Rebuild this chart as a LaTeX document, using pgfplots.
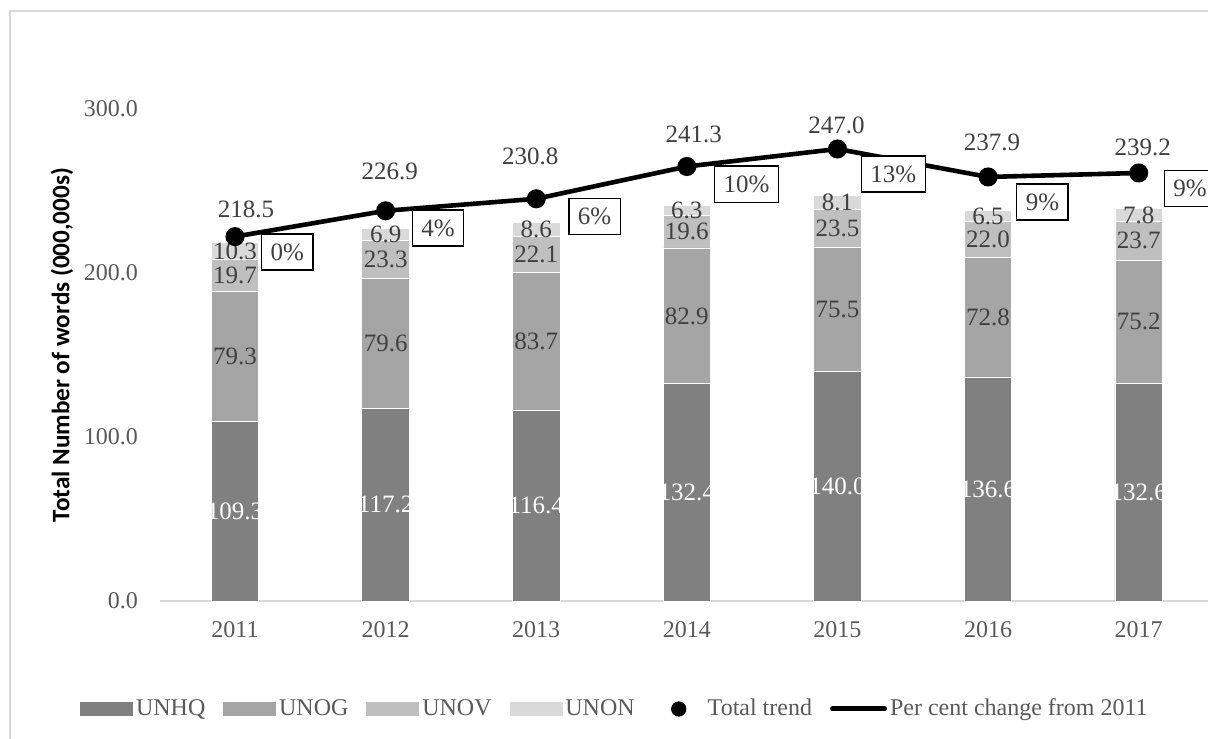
\documentclass[border=0pt]{standalone}
\usepackage{fontspec}
\setmainfont{Liberation Serif}
\newfontfamily\labelfont{Carlito}
\usepackage{pgfplots}
\usepackage{pgfplotstable}
\pgfplotsset{compat=1.18}

\definecolor{cHQ}{HTML}{808080}
\definecolor{cOG}{HTML}{A5A5A5}
\definecolor{cOV}{HTML}{BFBFBF}
\definecolor{cON}{HTML}{D9D9D9}
\definecolor{txt}{HTML}{595959}
\definecolor{dtxt}{HTML}{404040}
\definecolor{axl}{HTML}{D9D9D9}

\pgfplotstableread{
x hq og ov on total
0 109.3 79.3 19.7 10.3 218.5
1 117.2 79.6 23.3 6.9 226.9
2 116.4 83.7 22.1 8.6 230.8
3 132.4 82.9 19.6 6.3 241.3
4 140.0 75.5 23.5 8.1 247.0
5 136.6 72.8 22.0 6.5 237.9
6 132.6 75.2 23.7 7.8 239.2
}\data

\newcommand{\lbl}{\fontsize{12.5}{14}\selectfont}
\tikzset{
  wl/.style={font=\lbl, text=white},
  dl/.style={font=\lbl, text=dtxt, inner sep=0pt},
  tl/.style={font=\lbl, text=dtxt},
  pl/.style={font=\lbl, text=dtxt, draw=black, line width=0.7pt, fill=white, anchor=west, minimum height=18pt, inner xsep=4.5pt},
}
\pgfplotsset{
  overlay/.style={at={(79.85pt,68.5pt)}, anchor=south west,
    scale only axis, width=527.15pt, height=246pt,
    xmin=-0.5, xmax=6.5},
}

\begin{document}
\begin{tikzpicture}
\useasboundingbox (0,0) rectangle (604pt,369pt);
\clip (0,0) rectangle (604pt,369pt);
\fill[white] (0,0) rectangle (604pt,369pt);
\draw[color=axl, line width=0.8pt] (5pt,363.5pt) rectangle (660pt,-20pt);

% bars
\begin{axis}[
  overlay, ymin=0, ymax=300,
  ybar stacked, bar width=23.75pt,
  axis x line*=bottom, axis y line*=left,
  x axis line style={color=axl, line width=0.8pt},
  y axis line style={draw=none},
  major tick length=0pt,
  xtick={0,...,6},
  xticklabels={2011,2012,2013,2014,2015,2016,2017},
  ytick={0,100,200,300},
  tick label style={font=\fontsize{12}{14}\selectfont, text=txt},
  xticklabel style={yshift=-6.5pt},
  yticklabel style={xshift=-7.35pt, /pgf/number format/fixed, /pgf/number format/fixed zerofill, /pgf/number format/precision=1, /pgf/number format/assume math mode=true},
  ylabel={Total Number of words (000,000s)},
  ylabel style={font=\labelfont\bfseries\fontsize{12.6}{14}\selectfont, text=black, at={(axis description cs:-0.0927,0.5203)}, anchor=center},
  clip=false,
]
\addplot[fill=cHQ, draw=white, line width=0.4pt] table[x=x,y=hq]{\data};
\addplot[fill=cOG, draw=white, line width=0.4pt] table[x=x,y=og]{\data};
\addplot[fill=cOV, draw=white, line width=0.4pt] table[x=x,y=ov]{\data};
\addplot[fill=cON, draw=white, line width=0.4pt] table[x=x,y=on]{\data};
\end{axis}

% segment labels
\begin{axis}[overlay, ymin=0, ymax=300, hide axis, clip=false]
\node[wl] at (axis cs:0,54.65) {109.3};
\node[wl] at (axis cs:1,58.6) {117.2};
\node[wl] at (axis cs:2,58.2) {116.4};
\node[wl] at (axis cs:3,66.2) {132.4};
\node[wl] at (axis cs:4,70.0) {140.0};
\node[wl] at (axis cs:5,68.3) {136.6};
\node[wl] at (axis cs:6,66.3) {132.6};
\node[dl] at (axis cs:0,148.95) {79.3};
\node[dl] at (axis cs:1,157.0) {79.6};
\node[dl] at (axis cs:2,158.25) {83.7};
\node[dl] at (axis cs:3,173.85) {82.9};
\node[dl] at (axis cs:4,177.75) {75.5};
\node[dl] at (axis cs:5,173.0) {72.8};
\node[dl] at (axis cs:6,170.2) {75.2};
\node[dl] at (axis cs:0,198.45) {19.7};
\node[dl] at (axis cs:1,208.45) {23.3};
\node[dl] at (axis cs:2,211.15) {22.1};
\node[dl] at (axis cs:3,225.1) {19.6};
\node[dl] at (axis cs:4,227.25) {23.5};
\node[dl] at (axis cs:5,220.4) {22.0};
\node[dl] at (axis cs:6,219.65) {23.7};
\node[dl] at (axis cs:0,213.45) {10.3};
\node[dl] at (axis cs:1,223.55) {6.9};
\node[dl] at (axis cs:2,226.5) {8.6};
\node[dl] at (axis cs:3,238.05) {6.3};
\node[dl] at (axis cs:4,243.05) {8.1};
\node[dl] at (axis cs:5,234.65) {6.5};
\node[dl] at (axis cs:6,235.4) {7.8};
\end{axis}

% total trend on secondary scale
\begin{axis}[
  overlay, ymin=100, ymax=260,
  hide axis, clip=false,
  legend columns=6,
  legend style={at={(0.4323,-0.2195)}, anchor=center, draw=none, fill=none,
    font=\fontsize{12}{14}\selectfont, text=txt, inner sep=0pt,
    nodes={inner sep=1.5pt},
    /tikz/every even column/.append style={column sep=7.5pt}},
]
\addlegendimage{legend image code/.code={\fill[cHQ] (0pt,-3.25pt) rectangle (26pt,3.25pt);}}
\addlegendentry{UNHQ}
\addlegendimage{legend image code/.code={\fill[cOG] (0pt,-3.25pt) rectangle (26pt,3.25pt);}}
\addlegendentry{UNOG}
\addlegendimage{legend image code/.code={\fill[cOV] (0pt,-3.25pt) rectangle (26pt,3.25pt);}}
\addlegendentry{UNOV}
\addlegendimage{legend image code/.code={\fill[cON] (0pt,-3.25pt) rectangle (26pt,3.25pt);}}
\addlegendentry{UNON}
\addlegendimage{legend image code/.code={\path[draw=none,fill=none] (0pt,-3.25pt) rectangle (26pt,3.25pt); \fill[black] (13pt,0pt) circle (3.6pt);}}
\addlegendentry{Total trend}
\addlegendimage{legend image code/.code={\draw[black, line width=2.5pt, line cap=round] (1pt,0pt) -- (27pt,0pt);}}
\addlegendentry{Per cent change from 2011}

\addplot[black, line width=2.3pt, mark=*, mark size=3.6pt, forget plot] table[x=x,y=total]{\data};

\node[tl, xshift=5.5pt, yshift=13.4pt] at (axis cs:0,218.5) {218.5};
\node[tl, xshift=2pt, yshift=19.8pt] at (axis cs:1,226.9) {226.9};
\node[tl, xshift=-3pt, yshift=21pt] at (axis cs:2,230.8) {230.8};
\node[tl, xshift=3.5pt, yshift=16pt] at (axis cs:3,241.3) {241.3};
\node[tl, xshift=-0.5pt, yshift=12pt] at (axis cs:4,247.0) {247.0};
\node[tl, xshift=2pt, yshift=17.5pt] at (axis cs:5,237.9) {237.9};
\node[tl, xshift=2pt, yshift=13pt] at (axis cs:6,239.2) {239.2};
\node[pl, xshift=13pt, yshift=-7.65pt] at (axis cs:0,218.5) {0\%};
\node[pl, xshift=13pt, yshift=-8.65pt] at (axis cs:1,226.9) {4\%};
\node[pl, xshift=16pt, yshift=-9pt] at (axis cs:2,230.8) {6\%};
\node[pl, xshift=13.5pt, yshift=-8.85pt] at (axis cs:3,241.3) {10\%};
\node[pl, xshift=11.6pt, yshift=-12.6pt] at (axis cs:4,247.0) {13\%};
\node[pl, xshift=14pt, yshift=-12.5pt] at (axis cs:5,237.9) {9\%};
\node[pl, xshift=12.5pt, yshift=-7.85pt] at (axis cs:6,239.2) {9\%};
\end{axis}
\end{tikzpicture}
\end{document}
